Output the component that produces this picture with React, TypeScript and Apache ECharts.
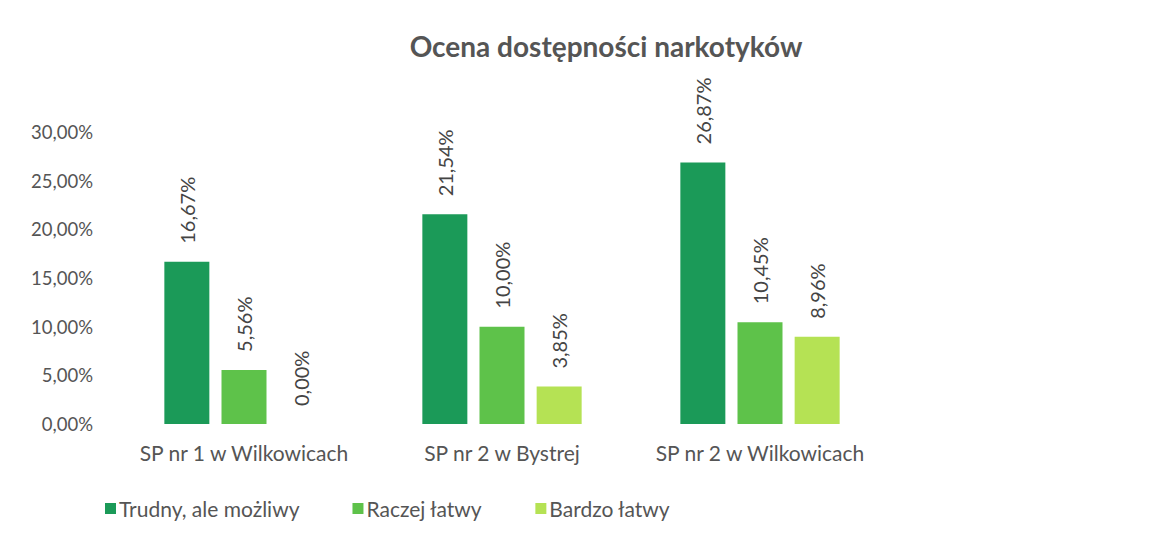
import React, { useEffect, useRef } from "react";
import * as echarts from "echarts";

const categories = ["SP nr 1 w Wilkowicach", "SP nr 2 w Bystrej", "SP nr 2 w Wilkowicach"];
const seriesNames = ["Trudny, ale możliwy", "Raczej łatwy", "Bardzo łatwy"];
const trudny = [16.67, 21.54, 26.87];
const raczej = [5.56, 10.0, 10.45];
const bardzo = [0.0, 3.85, 8.96];
const colors = ["#1b9a58", "#5ec24a", "#b5e254"];

const fmt = (v: number) => v.toFixed(2).replace(".", ",") + "%";
const FONT = "Lato, 'Open Sans', sans-serif";

export default function App() {
  const ref = useRef<HTMLDivElement>(null);
  useEffect(() => {
    document.body.style.margin = "0";
    if (!ref.current) return;
    const chart = echarts.init(ref.current, undefined, { renderer: "svg" });
    const data = [trudny, raczej, bardzo];
    chart.setOption({
      animation: false,
      backgroundColor: "#ffffff",
      textStyle: { fontFamily: FONT },
      title: {
        text: "Ocena dostępności narkotyków",
        left: 601,
        top: 27,
        textAlign: "center",
        textStyle: { fontFamily: FONT, fontSize: 28, fontWeight: "bold", color: "#555555" },
      },
      legend: {
        left: 100,
        top: 493,
        itemWidth: 11,
        itemHeight: 11,
        itemGap: 53,
        icon: "rect",
        textStyle: { fontFamily: FONT, fontSize: 21, color: "#555555", padding: [0, 0, 0, -2] },
        data: seriesNames,
      },
      grid: { left: 115, width: 774, top: 132, bottom: 127, containLabel: false },
      xAxis: {
        type: "category",
        data: categories,
        axisLine: { show: false },
        axisTick: { show: false },
        axisLabel: { fontFamily: FONT, fontSize: 21, color: "#555555", margin: 18, interval: 0 },
      },
      yAxis: {
        type: "value",
        min: 0,
        max: 30,
        interval: 5,
        splitLine: { show: false },
        axisLine: { show: false },
        axisTick: { show: false },
        axisLabel: { fontFamily: FONT, fontSize: 18.5, color: "#555555", margin: 22, formatter: (v: number) => fmt(v) },
      },
      series: seriesNames.map((name, i) => ({
        name,
        type: "bar",
        data: data[i],
        barWidth: 45,
        barGap: "27%",
        itemStyle: { color: colors[i] },
        label: {
          show: true,
          position: "top",
          rotate: 90,
          align: "left",
          verticalAlign: "middle",
          distance: 18,
          fontFamily: FONT,
          fontSize: 20,
          color: "#444444",
          formatter: (p: any) => fmt(p.value),
        },
      })),
    });
    return () => chart.dispose();
  }, []);
  return <div ref={ref} style={{ width: 1164, height: 551 }} />;
}
